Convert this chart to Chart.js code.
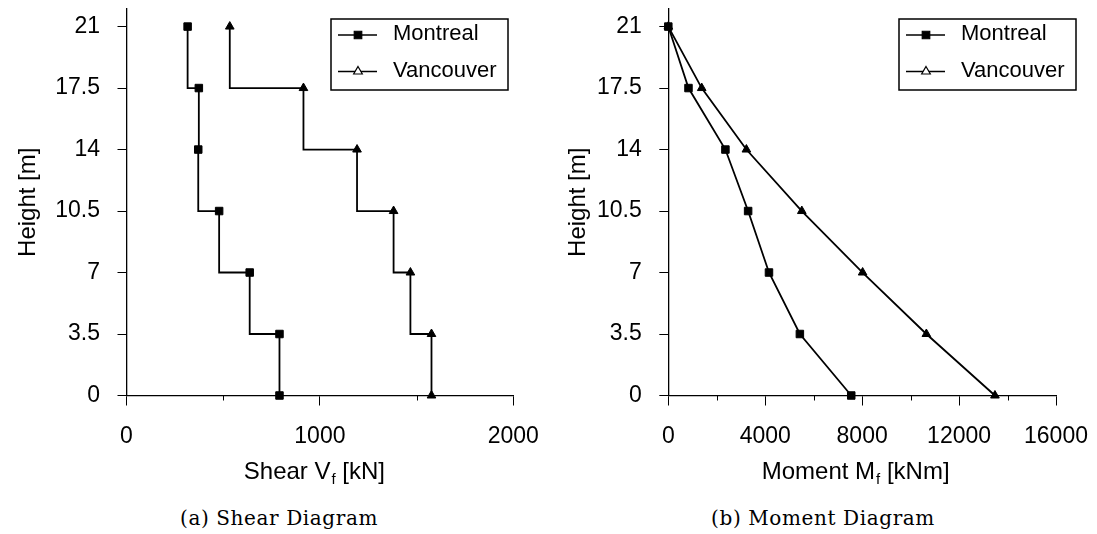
<!DOCTYPE html>
<html>
<head>
<meta charset="utf-8">
<title>Shear and moment diagrams</title>
<script src="https://cdn.jsdelivr.net/npm/chart.js@4.4.0/dist/chart.umd.min.js"></script>
<style>
  body { margin: 0; background: #fff; }
  #wrap { position: relative; width: 1097px; height: 534px; background: #fff; overflow: hidden; }
  .panel { position: absolute; top: 0; }
  .caption {
    position: absolute; top: 506px; line-height: 24px;
    font-family: "DejaVu Serif", serif; font-size: 20px; letter-spacing: 0.6px;
    color: #000; white-space: nowrap; transform: translateX(-50%);
  }
</style>
</head>
<body>
<div id="wrap">
  <div class="panel" style="left:0"><canvas id="shearChart" width="548" height="490"></canvas></div>
  <div class="panel" style="left:548px"><canvas id="momentChart" width="549" height="490"></canvas></div>
  <div class="caption" style="left:279px">(a) Shear Diagram</div>
  <div class="caption" style="left:823px">(b) Moment Diagram</div>
</div>
<script>
// storey heights, top down
const heights = [21, 17.5, 14, 10.5, 7, 3.5, 0];
const cities = ['Montreal', 'Vancouver'];

// shear V_f [kN]
const shearMontreal = [316, 374, 371, 479, 637, 791, 791];
const shearVancouver = [534, 915, 1192, 1381, 1468, 1577, 1577];

// moment M_f [kNm]
const momentMontreal = [0, 833, 2357, 3294, 4155, 5430, 7550];
const momentVancouver = [0, 1379, 3223, 5510, 8020, 10650, 13480];

// axis ticks
const heightTicks = [0, 3.5, 7, 10.5, 14, 17.5, 21];
const shearTicks = [0, 1000, 2000];
const shearMinor = [500, 1500];
const momentTicks = [0, 4000, 8000, 12000, 16000];
const momentMinor = [2000, 6000, 10000, 14000];

const FONT = '"Liberation Sans", Arial, sans-serif';

function points(xs) {
  return xs.map((v, i) => ({ x: v, y: heights[i] }));
}

// framed legend box drawn inside the plot
const boxLegend = {
  id: 'boxLegend',
  afterDraw(chart, args, o) {
    const ctx = chart.ctx;
    ctx.save();
    ctx.fillStyle = '#fff';
    ctx.fillRect(o.x, o.y, o.w, o.h);
    ctx.strokeStyle = '#000';
    ctx.lineWidth = 1.5;
    ctx.strokeRect(o.x, o.y, o.w, o.h);
    chart.data.datasets.forEach((ds, i) => {
      const cy = o.y + 16 + i * 36.5;
      ctx.strokeStyle = '#000';
      ctx.lineWidth = 1.5;
      ctx.beginPath();
      ctx.moveTo(o.x + 7, cy);
      ctx.lineTo(o.x + 46, cy);
      ctx.stroke();
      ctx.fillStyle = ds.pointStyle === 'triangle' ? '#fff' : '#000';
      ctx.lineWidth = 1.2;
      Chart.helpers.drawPoint(ctx, { pointStyle: ds.pointStyle, radius: ds.pointRadius, borderWidth: 1.2 }, o.x + 27, cy);
      ctx.fillStyle = '#000';
      ctx.font = '22px ' + FONT;
      ctx.textBaseline = 'middle';
      ctx.textAlign = 'left';
      ctx.fillText(ds.label, o.x + 62, cy - 1);
    });
    ctx.restore();
  }
};

// x axis title with a subscript
const xTitle = {
  id: 'xTitle',
  afterDraw(chart, args, o) {
    const ctx = chart.ctx;
    const area = chart.chartArea;
    const big = '24px ' + FONT, small = '15px ' + FONT;
    ctx.save();
    ctx.font = big;
    const w1 = ctx.measureText(o.parts[0]).width;
    const w3 = ctx.measureText(o.parts[2]).width;
    ctx.font = small;
    const w2 = ctx.measureText(o.parts[1]).width;
    let x = (area.left + area.right) / 2 + o.shift - (w1 + w2 + w3) / 2;
    ctx.fillStyle = '#000';
    ctx.textBaseline = 'alphabetic';
    ctx.textAlign = 'left';
    ctx.font = big;
    ctx.fillText(o.parts[0], x, o.baseline);
    x += w1;
    ctx.font = small;
    ctx.fillText(o.parts[1], x + 1, o.baseline + 5);
    x += w2 + 1;
    ctx.font = big;
    ctx.fillText(o.parts[2], x, o.baseline);
    ctx.restore();
  }
};

// short unlabelled ticks between the major ones
const minorTicks = {
  id: 'minorTicks',
  afterDraw(chart, args, o) {
    const ctx = chart.ctx;
    const xs = chart.scales.x;
    const y0 = chart.chartArea.bottom;
    ctx.save();
    ctx.strokeStyle = '#000';
    ctx.lineWidth = 1;
    o.values.forEach(v => {
      const px = Math.round(xs.getPixelForValue(v)) + 0.5;
      ctx.beginPath();
      ctx.moveTo(px, y0);
      ctx.lineTo(px, y0 + 5);
      ctx.stroke();
    });
    ctx.restore();
  }
};

function makeChart(id, c) {
  const common = {
    borderColor: '#000',
    borderWidth: 1.8,
    pointBackgroundColor: '#000',
    pointBorderColor: '#000',
    pointBorderWidth: 1,
    tension: 0,
    stepped: c.stepped,
    clip: false
  };
  return new Chart(document.getElementById(id), {
    type: 'line',
    data: {
      datasets: [
        Object.assign({ label: cities[0], data: points(c.montreal), pointStyle: 'rect', pointRadius: 5.3, pointHoverRadius: 5.3 }, common),
        Object.assign({ label: cities[1], data: points(c.vancouver), pointStyle: 'triangle', pointRadius: 5, pointHoverRadius: 5 }, common)
      ]
    },
    options: {
      responsive: false,
      animation: false,
      events: [],
      layout: { padding: { left: 0, top: 9, right: c.padRight, bottom: 0 } },
      plugins: {
        legend: { display: false },
        tooltip: { enabled: false },
        boxLegend: c.legend,
        xTitle: { parts: c.title, shift: c.titleShift, baseline: 478.5 },
        minorTicks: { values: c.minor }
      },
      scales: {
        x: {
          type: 'linear',
          min: 0,
          max: c.ticks[c.ticks.length - 1],
          afterBuildTicks: s => { s.ticks = c.ticks.map(v => ({ value: v })); },
          afterFit: s => { s.height = 94.5; s.paddingLeft = 0; s.paddingRight = 0; s.paddingTop = 0; s.paddingBottom = 0; },
          grid: { drawOnChartArea: false, tickLength: 10, tickColor: '#000', tickWidth: 1 },
          border: { color: '#000', width: 1.3 },
          ticks: {
            color: '#000', padding: 17.5, maxRotation: 0, autoSkip: false,
            font: { family: FONT, size: 23 },
            callback: v => String(v)
          }
        },
        y: {
          type: 'linear',
          min: 0,
          max: 22,
          afterBuildTicks: s => { s.ticks = heightTicks.map(v => ({ value: v })); },
          afterFit: s => { s.width = c.axisLeft; s.paddingLeft = 0; s.paddingRight = 0; s.paddingTop = 0; s.paddingBottom = 0; },
          grid: { drawOnChartArea: false, tickLength: 9, tickColor: '#000', tickWidth: 1 },
          border: { color: '#000', width: 1.3 },
          ticks: {
            color: '#000', padding: 17.5, autoSkip: false,
            font: { family: FONT, size: 23 },
            callback: v => String(v)
          },
          title: {
            display: true, text: 'Height [m]', color: '#000',
            font: { family: FONT, size: 24 },
            padding: { top: c.yTitlePad, bottom: 0 }
          }
        }
      }
    },
    plugins: [minorTicks, boxLegend, xTitle]
  });
}

makeChart('shearChart', {
  montreal: shearMontreal,
  vancouver: shearVancouver,
  stepped: 'after',
  ticks: shearTicks,
  minor: shearMinor,
  axisLeft: 126.5,
  padRight: 34.7,
  yTitlePad: 13.6,
  title: ['Shear V', 'f', ' [kN]'],
  titleShift: -6,
  legend: { x: 331, y: 19, w: 177, h: 71 }
});

makeChart('momentChart', {
  montreal: momentMontreal,
  vancouver: momentVancouver,
  stepped: false,
  ticks: momentTicks,
  minor: momentMinor,
  axisLeft: 120.3,
  padRight: 41,
  yTitlePad: 15.6,
  title: ['Moment M', 'f', ' [kNm]'],
  titleShift: -7,
  legend: { x: 351, y: 19, w: 177, h: 71 }
});
</script>
</body>
</html>
